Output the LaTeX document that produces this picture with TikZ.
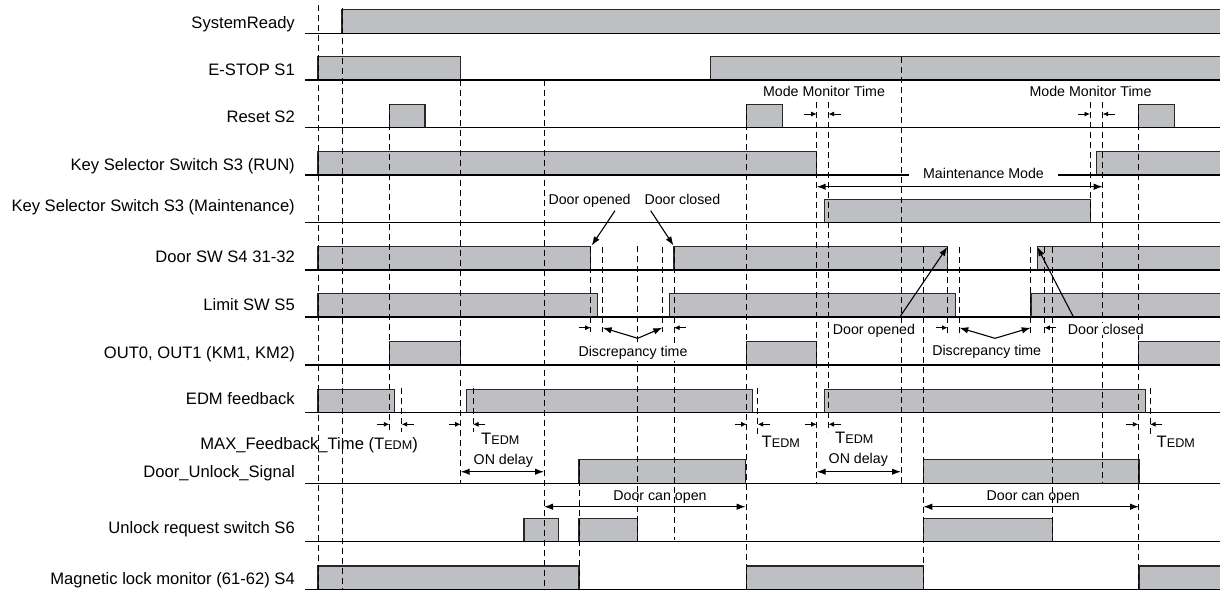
\documentclass[tikz,border=0pt]{standalone}
\usepackage{fontspec}
\setmainfont{Liberation Sans}
\usetikzlibrary{arrows.meta}
\definecolor{barfill}{RGB}{190,191,195}
\definecolor{barline}{RGB}{40,40,40}
\newcommand\tedmsub{{\fontsize{12.6}{14}\selectfont EDM}}
\newcommand\sigrow[2]{%
  \foreach \a/\b in {#2}{
    \fill[barfill] ({\a},{#1-23.5}) rectangle ({\b},{#1});
    \draw[barline,line width=1.2pt] ({\a},{#1}) -- ({\a},{#1-23.5}) -- ({\b},{#1-23.5}) -- ({\b},{#1});
  }
  \draw[line width=1.2pt] (305,{#1}) -- (1222,{#1});
}
\tikzset{
  lab/.style={anchor=base east, font=\fontsize{16.6}{18}\selectfont, inner sep=0pt},
  ann/.style={anchor=base, font=\fontsize{14.2}{16}\selectfont, inner sep=0pt},
  tlab/.style={anchor=base west, font=\fontsize{16.6}{18}\selectfont, inner sep=0pt},
  dsh/.style={line width=1pt, dash pattern=on 6pt off 4pt},
  smallarr/.style={-{Latex[length=5.5pt,width=5pt]}, line width=0.9pt},
  bigarr/.style={-{Latex[length=9pt,width=6.5pt]}, line width=1.1pt},
  dblarr/.style={{Latex[length=9pt,width=6.5pt]}-{Latex[length=9pt,width=6.5pt]}, line width=1.1pt},
}
\begin{document}
\begin{tikzpicture}[x=1pt,y=-1pt]
\useasboundingbox (0,0) rectangle (1220,590);
% signal rows
\sigrow{33.3}{342/1224}
\sigrow{80}{318/460.7, 710.7/1224}
\sigrow{127.7}{389.3/425, 746.7/782.3, 1138.3/1174.3}
\sigrow{175}{318/816.7, 1096.7/1224}
\sigrow{222.7}{824.3/1090.5}
\sigrow{270}{318/590.7, 674/947.7, 1037.3/1224}
\sigrow{317}{318/597.7, 669.3/955.3, 1031/1224}
\sigrow{365}{389.3/460.7, 746.7/816.7, 1138.3/1224}
\sigrow{412.7}{318/394.3, 466.7/752.3, 824.3/1145.7}
\sigrow{483.3}{579/745.7, 923.3/1139}
\sigrow{541.7}{524/558.7, 579/637.7, 923.3/1052.3}
\sigrow{589.5}{318/579, 746.7/923.3, 1139/1224}
% labels
\node[lab] (l1) at (295,28.3) {SystemReady};
\node[lab] (l2) at (295,75) {E-STOP S1};
\node[lab] (l3) at (295,122.7) {Reset S2};
\node[lab] (l4) at (295,170) {Key Selector Switch S3 (RUN)};
\node[lab] (l5) at (295,211.7) {Key Selector Switch S3 (Maintenance)};
\node[lab] (l6) at (295,262.7) {Door SW S4 31-32};
\node[lab] (l7) at (295,310) {Limit SW S5};
\node[lab] (l8) at (295,358.3) {OUT0, OUT1 (KM1, KM2)};
\node[lab] (l9) at (295,404) {EDM feedback};
\node[lab] (l10) at (418,449) {MAX\_Feedback\_Time (T\tedmsub)};
\node[lab] (l11) at (295,477.3) {Door\_Unlock\_Signal};
\node[lab] (l12) at (295,533.3) {Unlock request switch S6};
\node[lab] (l13) at (295,584.5) {Magnetic lock monitor (61-62) S4};
% dashed time markers
\foreach \x/\ya/\yb in {318/5/590, 342/8/590, 389.3/104/432, 401.7/388/432,
  460.7/80/484, 473/388/432, 544/80/590, 579/460/590, 590.7/247/332,
  602.7/247/332, 637.7/246/541.7, 662.3/247/332, 674/247/540, 746.7/104/590,
  757.7/388/437, 816.7/102/484, 828.5/102/432, 901/57/484, 923.3/247/590,
  947.5/247/337, 959.3/247/337, 1030.7/247/337, 1044.3/247/337,
  1052.3/247/541.7, 1090/102/222, 1102.7/102/484, 1138.3/104/590, 1150/388/437}
  \draw[dsh] (\x,\ya) -- (\x,\yb);
% Maintenance mode text over RUN baseline
\node[ann, anchor=center, fill=white, inner xsep=14pt, inner ysep=1pt] (mm) at (983.5,173.5) {Maintenance Mode};
\coordinate (mmL) at (816.7,186.7); \coordinate (mmR) at (1102.7,186.7);
\draw[dblarr] (mmL) -- (mmR);
% Mode monitor time
\node[ann] (mmt1) at (824,96) {Mode Monitor Time};
\node[ann] (mmt2) at (1090.5,96) {Mode Monitor Time};
\foreach \p/\q in {804/816.7, 840.5/828.5, 1078/1090, 1114.7/1102.7}
  \draw[smallarr] (\p,114) -- (\q,114);
% TEDM small arrows
\foreach \p/\q in {377/389.3, 413.7/401.7, 448.7/460.7, 485/473, 734.7/746.7,
  769.7/757.7, 804.7/816.7, 840.5/828.5, 1126.3/1138.3, 1162/1150}
  \draw[smallarr] (\p,424.3) -- (\q,424.3);
% TEDM labels
\node[tlab] (t1) at (481,444.3) {T\tedmsub};
\node[tlab] (t2) at (761.5,447.3) {T\tedmsub};
\node[tlab] (t3) at (835,443.3) {T\tedmsub};
\node[tlab] (t4) at (1156.5,447.3) {T\tedmsub};
\node[ann] (on1) at (503.3,464.5) {ON delay};
\node[ann] (on2) at (858.3,463) {ON delay};
\coordinate (od1a) at (460.7,471.7); \coordinate (od1b) at (544,471.7);
\coordinate (od2a) at (816.7,471.7); \coordinate (od2b) at (901,471.7);
\draw[dblarr] (od1a) -- (od1b);
\draw[dblarr] (od2a) -- (od2b);
% Door can open
\node[ann] (dc1) at (660,500) {Door can open};
\node[ann] (dc2) at (1033.3,500) {Door can open};
\coordinate (dc1a) at (544,506.7); \coordinate (dc1b) at (745.7,506.7);
\coordinate (dc2a) at (923.3,506.7); \coordinate (dc2b) at (1139,506.7);
\draw[dblarr] (dc1a) -- (dc1b);
\draw[dblarr] (dc2a) -- (dc2b);
% Discrepancy time
\foreach \p/\q in {578.5/590.7, 686/674, 935.5/947.5, 1056.3/1044.3}
  \draw[smallarr] (\p,327.7) -- (\q,327.7);
\coordinate (dp1) at (637.7,338.3); \coordinate (dp2) at (995,338.3);
\coordinate (dp1a) at (602.7,327.7); \coordinate (dp1b) at (662.3,327.7);
\coordinate (dp2a) at (959.3,327.7); \coordinate (dp2b) at (1030.7,327.7);
\draw[bigarr] (dp1) -- (dp1a);
\draw[bigarr] (dp1) -- (dp1b);
\draw[bigarr] (dp2) -- (dp2a);
\draw[bigarr] (dp2) -- (dp2b);
\node[ann, fill=white, inner sep=1pt] (dt1) at (633,356.7) {Discrepancy time};
\node[ann] (dt2) at (986.7,355.7) {Discrepancy time};
% Door opened / closed annotations
\node[ann, anchor=base west] (do1) at (548.3,204) {Door opened};
\node[ann, anchor=base west] (dcl1) at (644.3,204) {Door closed};
\coordinate (do1s) at (615,210.7); \coordinate (do1e) at (591.7,245.5);
\coordinate (dcl1s) at (650.7,210.7); \coordinate (dcl1e) at (673.5,245.5);
\draw[bigarr] (do1s) -- (do1e);
\draw[bigarr] (dcl1s) -- (dcl1e);
\node[ann, anchor=base west, fill=white, inner sep=1pt] (do2) at (831.7,334) {Door opened};
\node[ann, anchor=base west, fill=white, inner sep=1pt] (dcl2) at (1066.7,334) {Door closed};
\coordinate (do2s) at (900,316.7); \coordinate (do2e) at (947.3,247);
\coordinate (dcl2s) at (1073.3,316.7); \coordinate (dcl2e) at (1037.3,247);
\draw[bigarr] (do2s) -- (do2e);
\draw[bigarr] (dcl2s) -- (dcl2e);
\end{tikzpicture}
\end{document}
